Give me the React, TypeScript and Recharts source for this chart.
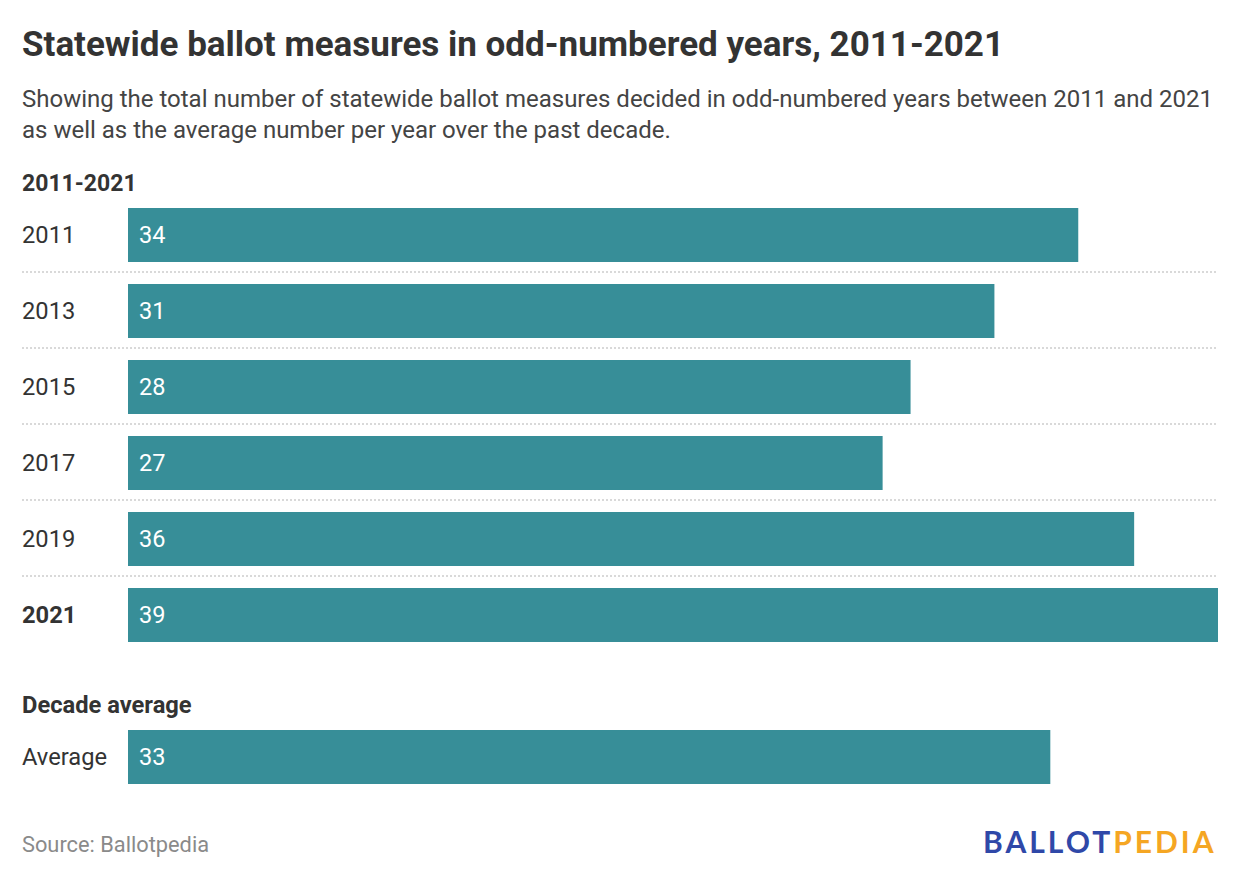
import { BarChart, Bar, XAxis, YAxis, LabelList } from "recharts";

const years = ["2011", "2013", "2015", "2017", "2019", "2021"];
const measures = [34, 31, 28, 27, 36, 39];
const avgLabels = ["Average"];
const avgValues = [33];
const boldYear = "2021";

const BAR = "#378e98";
const INK = "#333333";
const FONT = "Roboto, 'Noto Sans', sans-serif";
const MAX = Math.max(...measures);

const yearRows = years.map((y, i) => ({ name: y, value: measures[i] }));
const avgRows = avgLabels.map((y, i) => ({ name: y, value: avgValues[i] }));

// bar with the dotted separator under it (except last row)
function RowShape(props: any) {
  const { x, y, width, height, index, rows } = props;
  const sepY = y + height + 10;
  return (
    <g>
      <rect x={x} y={y} width={width} height={height} fill={BAR} />
      {index < rows - 1 && (
        <line
          x1={22}
          x2={1218}
          y1={sepY}
          y2={sepY}
          stroke="#d9d9d9"
          strokeWidth={2}
          strokeDasharray="2 2"
        />
      )}
    </g>
  );
}

function YearTick(props: any) {
  const { y, payload } = props;
  return (
    <text
      x={22}
      y={y}
      dy={8}
      textAnchor="start"
      fontSize={23.7}
      fontFamily={FONT}
      fontWeight={payload.value === boldYear ? 700 : 400}
      fill={INK}
    >
      {payload.value}
    </text>
  );
}

function Rows({ data, height }: { data: { name: string; value: number }[]; height: number }) {
  return (
    <BarChart
      width={1240}
      height={height}
      data={data}
      layout="vertical"
      margin={{ top: 0, right: 22, bottom: 0, left: 22 }}
      barSize={54}
    >
      <XAxis type="number" domain={[0, MAX]} hide />
      <YAxis
        type="category"
        dataKey="name"
        width={106}
        axisLine={false}
        tickLine={false}
        tick={<YearTick />}
      />
      <Bar
        dataKey="value"
        isAnimationActive={false}
        shape={(p: any) => <RowShape {...p} rows={data.length} />}
      >
        <LabelList
          dataKey="value"
          position="insideLeft"
          offset={11}
          fill="#ffffff"
          fontSize={23.5}
          fontFamily={FONT}
        />
      </Bar>
    </BarChart>
  );
}

export default function App() {
  return (
    <div
      style={{
        position: "absolute",
        left: 0,
        top: 0,
        width: 1240,
        height: 886,
        background: "#fff",
        fontFamily: FONT,
        color: INK,
      }}
    >
      <div style={{ position: "absolute", left: 22, top: 22, fontSize: 35, lineHeight: "46px", fontWeight: 700, color: INK, whiteSpace: "nowrap" }}>
        Statewide ballot measures in odd-numbered years, 2011-2021
      </div>
      <div style={{ position: "absolute", left: 22, top: 84, width: 1200, fontSize: 24, lineHeight: "31px", color: "#444" }}>
        Showing the total number of statewide ballot measures decided in odd-numbered years between 2011 and 2021 as well as the average number per year over the past decade.
      </div>
      <div style={{ position: "absolute", left: 22, top: 170, fontSize: 23, fontWeight: 700 }}>2011-2021</div>
      <div style={{ position: "absolute", left: 0, top: 197 }}>
        <Rows data={yearRows} height={456} />
      </div>
      <div style={{ position: "absolute", left: 22, top: 691, fontSize: 23.7, fontWeight: 700 }}>Decade average</div>
      <div style={{ position: "absolute", left: 0, top: 719 }}>
        <Rows data={avgRows} height={76} />
      </div>
      <div style={{ position: "absolute", left: 22, top: 832, fontSize: 21.8, color: "#8a8a8a" }}>Source: Ballotpedia</div>
      <div
        style={{
          position: "absolute",
          left: 983,
          top: 823,
          fontSize: 30,
          fontWeight: 700,
          letterSpacing: 3,
          fontFamily: "Lato, 'Open Sans', sans-serif",
        }}
      >
        <span style={{ color: "#2f48a8" }}>BALLOT</span>
        <span style={{ color: "#f5a623" }}>PEDIA</span>
      </div>
    </div>
  );
}
